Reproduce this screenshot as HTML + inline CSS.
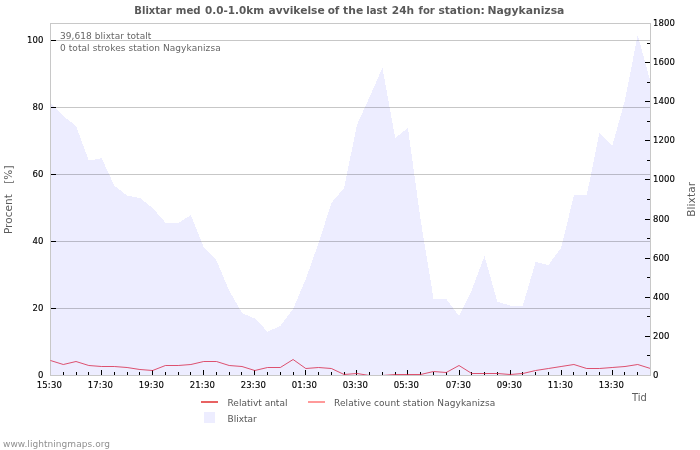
<!DOCTYPE html>
<html><head><meta charset="utf-8"><title>Blixtar</title>
<style>
html,body{margin:0;padding:0;background:#fff;}
svg{display:block;}
text{font-family:"DejaVu Sans","Liberation Sans",sans-serif;}
.t{font-size:10.5px;font-weight:bold;fill:#595959;}
.ax{font-size:8.5px;fill:#000;stroke:#000;stroke-width:0.14px;letter-spacing:0.1px;}
.lg{font-size:9px;fill:#555;}
.at{font-size:10.5px;fill:#5c5c5c;}
.nt{font-size:9px;fill:#666;}
</style></head><body>
<svg width="700" height="450" viewBox="0 0 700 450">
<rect width="700" height="450" fill="#fff"/>
<text class="t" y="13.6"><tspan x="134.3" textLength="37.5" lengthAdjust="spacingAndGlyphs">Blixtar</tspan> <tspan x="175.8" textLength="24.9" lengthAdjust="spacingAndGlyphs">med</tspan> <tspan x="205.0" textLength="59.1" lengthAdjust="spacingAndGlyphs">0.0-1.0km</tspan> <tspan x="268.5" textLength="56.2" lengthAdjust="spacingAndGlyphs">avvikelse</tspan> <tspan x="327.7" textLength="11.7" lengthAdjust="spacingAndGlyphs">of</tspan> <tspan x="343.1" textLength="20.1" lengthAdjust="spacingAndGlyphs">the</tspan> <tspan x="366.2" textLength="21.2" lengthAdjust="spacingAndGlyphs">last</tspan> <tspan x="391.8" textLength="22.4" lengthAdjust="spacingAndGlyphs">24h</tspan> <tspan x="418.5" textLength="16.3" lengthAdjust="spacingAndGlyphs">for</tspan> <tspan x="438.4" textLength="46.5" lengthAdjust="spacingAndGlyphs">station:</tspan> <tspan x="487.4" textLength="77.0" lengthAdjust="spacingAndGlyphs">Nagykanizsa</tspan></text>
<path d="M50.5,375.5 L50.5,102.6 L63.3,116.0 L76.0,126.0 L88.8,160.6 L101.6,158.2 L114.3,185.6 L127.1,195.6 L139.9,198.0 L152.6,208.0 L165.4,222.6 L178.2,223.0 L190.9,215.0 L203.7,247.0 L216.5,260.5 L229.2,290.6 L242.0,313.0 L254.8,318.5 L267.5,331.6 L280.3,326.0 L293.1,309.0 L305.8,279.0 L318.6,243.0 L331.4,203.0 L344.1,188.0 L356.9,125.0 L369.6,97.0 L382.4,67.8 L395.2,138.0 L407.9,128.0 L420.7,220.5 L433.5,298.6 L446.2,299.0 L459.0,316.0 L471.8,290.0 L484.5,256.0 L497.3,301.7 L510.1,305.6 L522.8,305.6 L535.6,262.0 L548.4,265.0 L561.1,248.0 L573.9,195.4 L586.7,195.4 L599.4,133.0 L612.2,146.0 L625.0,100.0 L637.7,35.0 L650.5,82.0 L650.5,375.5 Z" fill="#ededff" shape-rendering="crispEdges"/>
<line x1="51" y1="40.5" x2="650" y2="40.5" stroke="#000" stroke-opacity="0.22" stroke-width="1"/>
<line x1="51" y1="107.5" x2="650" y2="107.5" stroke="#000" stroke-opacity="0.22" stroke-width="1"/>
<line x1="51" y1="174.5" x2="650" y2="174.5" stroke="#000" stroke-opacity="0.22" stroke-width="1"/>
<line x1="51" y1="241.5" x2="650" y2="241.5" stroke="#000" stroke-opacity="0.22" stroke-width="1"/>
<line x1="51" y1="308.5" x2="650" y2="308.5" stroke="#000" stroke-opacity="0.22" stroke-width="1"/>
<rect x="50.5" y="23.5" width="600" height="352" fill="none" stroke="#c8c8c8" stroke-width="1"/>
<text class="ax" x="43.6" y="377.5" text-anchor="end">0</text>
<line x1="51" y1="308.5" x2="56" y2="308.5" stroke="#000" stroke-width="1"/>
<text class="ax" x="43.6" y="310.5" text-anchor="end">20</text>
<line x1="51" y1="241.5" x2="56" y2="241.5" stroke="#000" stroke-width="1"/>
<text class="ax" x="43.6" y="243.5" text-anchor="end">40</text>
<line x1="51" y1="174.5" x2="56" y2="174.5" stroke="#000" stroke-width="1"/>
<text class="ax" x="43.6" y="176.5" text-anchor="end">60</text>
<line x1="51" y1="107.5" x2="56" y2="107.5" stroke="#000" stroke-width="1"/>
<text class="ax" x="43.6" y="109.5" text-anchor="end">80</text>
<line x1="51" y1="40.5" x2="56" y2="40.5" stroke="#000" stroke-width="1"/>
<text class="ax" x="43.6" y="42.5" text-anchor="end">100</text>
<text class="ax" x="653" y="378.1">0</text>
<line x1="647" y1="355.5" x2="650" y2="355.5" stroke="#000" stroke-width="1"/>
<line x1="645" y1="336.5" x2="650" y2="336.5" stroke="#000" stroke-width="1"/>
<text class="ax" x="653" y="339.1">200</text>
<line x1="647" y1="316.5" x2="650" y2="316.5" stroke="#000" stroke-width="1"/>
<line x1="645" y1="297.5" x2="650" y2="297.5" stroke="#000" stroke-width="1"/>
<text class="ax" x="653" y="300.1">400</text>
<line x1="647" y1="277.5" x2="650" y2="277.5" stroke="#000" stroke-width="1"/>
<line x1="645" y1="258.5" x2="650" y2="258.5" stroke="#000" stroke-width="1"/>
<text class="ax" x="653" y="261.1">600</text>
<line x1="647" y1="238.5" x2="650" y2="238.5" stroke="#000" stroke-width="1"/>
<line x1="645" y1="219.5" x2="650" y2="219.5" stroke="#000" stroke-width="1"/>
<text class="ax" x="653" y="222.1">800</text>
<line x1="647" y1="199.5" x2="650" y2="199.5" stroke="#000" stroke-width="1"/>
<line x1="645" y1="179.5" x2="650" y2="179.5" stroke="#000" stroke-width="1"/>
<text class="ax" x="653" y="182.1">1000</text>
<line x1="647" y1="160.5" x2="650" y2="160.5" stroke="#000" stroke-width="1"/>
<line x1="645" y1="140.5" x2="650" y2="140.5" stroke="#000" stroke-width="1"/>
<text class="ax" x="653" y="143.1">1200</text>
<line x1="647" y1="121.5" x2="650" y2="121.5" stroke="#000" stroke-width="1"/>
<line x1="645" y1="101.5" x2="650" y2="101.5" stroke="#000" stroke-width="1"/>
<text class="ax" x="653" y="104.1">1400</text>
<line x1="647" y1="82.5" x2="650" y2="82.5" stroke="#000" stroke-width="1"/>
<line x1="645" y1="62.5" x2="650" y2="62.5" stroke="#000" stroke-width="1"/>
<text class="ax" x="653" y="65.1">1600</text>
<line x1="647" y1="43.5" x2="650" y2="43.5" stroke="#000" stroke-width="1"/>
<text class="ax" x="653" y="26.1">1800</text>
<text class="ax" x="49.4" y="388" text-anchor="middle" style="letter-spacing:0.2px">15:30</text>
<line x1="63.5" y1="372" x2="63.5" y2="375" stroke="#000" stroke-width="1"/>
<line x1="76.5" y1="372" x2="76.5" y2="375" stroke="#000" stroke-width="1"/>
<line x1="88.5" y1="372" x2="88.5" y2="375" stroke="#000" stroke-width="1"/>
<line x1="101.5" y1="370" x2="101.5" y2="375" stroke="#000" stroke-width="1"/>
<text class="ax" x="100.4" y="388" text-anchor="middle" style="letter-spacing:0.2px">17:30</text>
<line x1="114.5" y1="372" x2="114.5" y2="375" stroke="#000" stroke-width="1"/>
<line x1="127.5" y1="372" x2="127.5" y2="375" stroke="#000" stroke-width="1"/>
<line x1="139.5" y1="372" x2="139.5" y2="375" stroke="#000" stroke-width="1"/>
<line x1="152.5" y1="370" x2="152.5" y2="375" stroke="#000" stroke-width="1"/>
<text class="ax" x="151.4" y="388" text-anchor="middle" style="letter-spacing:0.2px">19:30</text>
<line x1="165.5" y1="372" x2="165.5" y2="375" stroke="#000" stroke-width="1"/>
<line x1="178.5" y1="372" x2="178.5" y2="375" stroke="#000" stroke-width="1"/>
<line x1="190.5" y1="372" x2="190.5" y2="375" stroke="#000" stroke-width="1"/>
<line x1="203.5" y1="370" x2="203.5" y2="375" stroke="#000" stroke-width="1"/>
<text class="ax" x="202.4" y="388" text-anchor="middle" style="letter-spacing:0.2px">21:30</text>
<line x1="216.5" y1="372" x2="216.5" y2="375" stroke="#000" stroke-width="1"/>
<line x1="229.5" y1="372" x2="229.5" y2="375" stroke="#000" stroke-width="1"/>
<line x1="241.5" y1="372" x2="241.5" y2="375" stroke="#000" stroke-width="1"/>
<line x1="254.5" y1="370" x2="254.5" y2="375" stroke="#000" stroke-width="1"/>
<text class="ax" x="253.4" y="388" text-anchor="middle" style="letter-spacing:0.2px">23:30</text>
<line x1="267.5" y1="372" x2="267.5" y2="375" stroke="#000" stroke-width="1"/>
<line x1="280.5" y1="372" x2="280.5" y2="375" stroke="#000" stroke-width="1"/>
<line x1="293.5" y1="372" x2="293.5" y2="375" stroke="#000" stroke-width="1"/>
<line x1="305.5" y1="370" x2="305.5" y2="375" stroke="#000" stroke-width="1"/>
<text class="ax" x="304.4" y="388" text-anchor="middle" style="letter-spacing:0.2px">01:30</text>
<line x1="318.5" y1="372" x2="318.5" y2="375" stroke="#000" stroke-width="1"/>
<line x1="331.5" y1="372" x2="331.5" y2="375" stroke="#000" stroke-width="1"/>
<line x1="344.5" y1="372" x2="344.5" y2="375" stroke="#000" stroke-width="1"/>
<line x1="356.5" y1="370" x2="356.5" y2="375" stroke="#000" stroke-width="1"/>
<text class="ax" x="355.4" y="388" text-anchor="middle" style="letter-spacing:0.2px">03:30</text>
<line x1="369.5" y1="372" x2="369.5" y2="375" stroke="#000" stroke-width="1"/>
<line x1="382.5" y1="372" x2="382.5" y2="375" stroke="#000" stroke-width="1"/>
<line x1="395.5" y1="372" x2="395.5" y2="375" stroke="#000" stroke-width="1"/>
<line x1="407.5" y1="370" x2="407.5" y2="375" stroke="#000" stroke-width="1"/>
<text class="ax" x="406.4" y="388" text-anchor="middle" style="letter-spacing:0.2px">05:30</text>
<line x1="420.5" y1="372" x2="420.5" y2="375" stroke="#000" stroke-width="1"/>
<line x1="433.5" y1="372" x2="433.5" y2="375" stroke="#000" stroke-width="1"/>
<line x1="446.5" y1="372" x2="446.5" y2="375" stroke="#000" stroke-width="1"/>
<line x1="459.5" y1="370" x2="459.5" y2="375" stroke="#000" stroke-width="1"/>
<text class="ax" x="458.4" y="388" text-anchor="middle" style="letter-spacing:0.2px">07:30</text>
<line x1="471.5" y1="372" x2="471.5" y2="375" stroke="#000" stroke-width="1"/>
<line x1="484.5" y1="372" x2="484.5" y2="375" stroke="#000" stroke-width="1"/>
<line x1="497.5" y1="372" x2="497.5" y2="375" stroke="#000" stroke-width="1"/>
<line x1="510.5" y1="370" x2="510.5" y2="375" stroke="#000" stroke-width="1"/>
<text class="ax" x="509.4" y="388" text-anchor="middle" style="letter-spacing:0.2px">09:30</text>
<line x1="522.5" y1="372" x2="522.5" y2="375" stroke="#000" stroke-width="1"/>
<line x1="535.5" y1="372" x2="535.5" y2="375" stroke="#000" stroke-width="1"/>
<line x1="548.5" y1="372" x2="548.5" y2="375" stroke="#000" stroke-width="1"/>
<line x1="561.5" y1="370" x2="561.5" y2="375" stroke="#000" stroke-width="1"/>
<text class="ax" x="560.4" y="388" text-anchor="middle" style="letter-spacing:0.2px">11:30</text>
<line x1="573.5" y1="372" x2="573.5" y2="375" stroke="#000" stroke-width="1"/>
<line x1="586.5" y1="372" x2="586.5" y2="375" stroke="#000" stroke-width="1"/>
<line x1="599.5" y1="372" x2="599.5" y2="375" stroke="#000" stroke-width="1"/>
<line x1="612.5" y1="370" x2="612.5" y2="375" stroke="#000" stroke-width="1"/>
<text class="ax" x="611.4" y="388" text-anchor="middle" style="letter-spacing:0.2px">13:30</text>
<line x1="624.5" y1="372" x2="624.5" y2="375" stroke="#000" stroke-width="1"/>
<line x1="637.5" y1="372" x2="637.5" y2="375" stroke="#000" stroke-width="1"/>
<path d="M50.5,360.5 L63.3,364.5 L76.0,361.5 L88.8,365.5 L101.6,366.5 L114.3,366.5 L127.1,367.5 L139.9,369.5 L152.6,370.5 L165.4,365.5 L178.2,365.5 L190.9,364.5 L203.7,361.5 L216.5,361.5 L229.2,365.5 L242.0,366.5 L254.8,370.5 L267.5,367.5 L280.3,367.5 L293.1,359.5 L305.8,368.5 L318.6,367.5 L331.4,368.5 L344.1,374.5 L356.9,373.5 L369.6,375.5 L382.4,375.5 L395.2,374.5 L407.9,374.5 L420.7,374.5 L433.5,371.5 L446.2,372.5 L459.0,365.5 L471.8,373.5 L484.5,373.5 L497.3,373.5 L510.1,374.5 L522.8,373.5 L535.6,370.5 L548.4,368.5 L561.1,366.5 L573.9,364.5 L586.7,368.5 L599.4,368.5 L612.2,367.5 L625.0,366.5 L637.7,364.5 L650.5,368.5" fill="none" stroke="#d8284a" stroke-width="0.8" stroke-linejoin="round"/>
<path d="M50,375.5 H651 M650.5,24 V375" stroke="#c8c8c8" stroke-width="1" fill="none"/>
<text class="nt" x="60" y="38.5" textLength="91.3">39,618 blixtar totalt</text>
<text class="nt" x="60" y="50.7" textLength="160.7">0 total strokes station Nagykanizsa</text>
<text class="at" transform="translate(11.8,234.1) rotate(-90)" textLength="68.6" xml:space="preserve">Procent   [%]</text>
<text class="at" transform="translate(694.6,216.8) rotate(-90)" style="letter-spacing:0.12px">Blixtar</text>
<text class="at" x="632.1" y="401" textLength="14.8" lengthAdjust="spacingAndGlyphs">Tid</text>
<line x1="201" y1="402" x2="218" y2="402" stroke="#e86262" stroke-width="2"/>
<text class="lg" x="227.5" y="405.5">Relativt antal</text>
<line x1="308" y1="402" x2="325" y2="402" stroke="#ff9a9a" stroke-width="2"/>
<text class="lg" x="334" y="405.5" textLength="161.2">Relative count station Nagykanizsa</text>
<rect x="204" y="412" width="11" height="11" fill="#ededff"/>
<text class="lg" x="227.5" y="422">Blixtar</text>
<text class="lg" x="3" y="446.8" textLength="107" style="fill:#909090">www.lightningmaps.org</text>
</svg></body></html>
